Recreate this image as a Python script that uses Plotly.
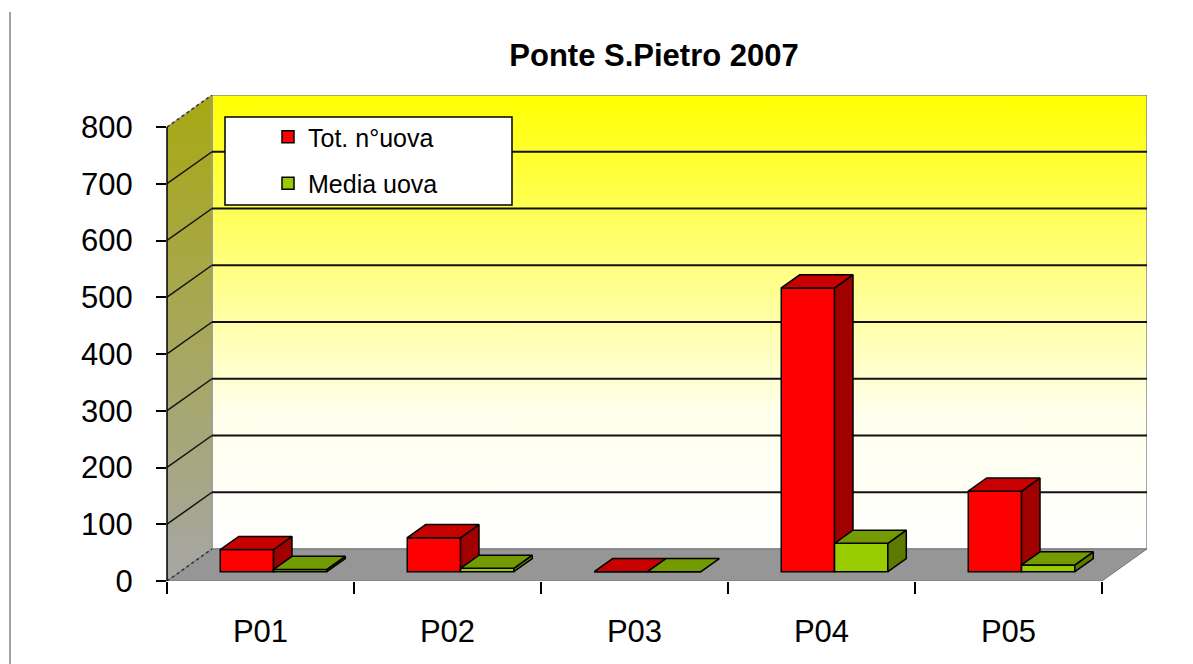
import plotly.graph_objects as go

# ---- data ----
categories = ["P01", "P02", "P03", "P04", "P05"]
tot_uova = [39, 60, 0, 500, 142]
media_uova = [4, 6, 0, 50, 12]
y_ticks = [0, 100, 200, 300, 400, 500, 600, 700, 800]
series_names = ["Tot. n°uova", "Media uova"]
title_text = "Ponte S.Pietro 2007"

# ---- 3D pseudo-projection constants ----
DX = 45 / 187.0      # x-shift (category units) for full depth
DY = 56.4            # y-shift (value units) for full depth
T0, T1 = 0.29, 0.70  # bar front/back depth fractions
BW = 0.285           # bar width (category units)
YMAX = y_ticks[-1]
XMIN, XMAX = -0.5, len(categories) - 0.5
FONT = "Liberation Sans, Arial, sans-serif"
OFF = 8  # page body margin offset


def P(x, v, t):
    return x + t * DX, v + t * DY


def poly(points):
    xs, ys = [], []
    for (x, v, t) in points:
        px, py = P(x, v, t)
        xs.append(px)
        ys.append(py)
    xs.append(xs[0])
    ys.append(ys[0])
    return xs, ys


def multi(polys):
    X, Y = [], []
    for xs, ys in polys:
        X += xs + [None]
        Y += ys + [None]
    return X, Y


fig = go.Figure()
xpos = list(range(len(categories)))

# ---- walls / floor (main subplot) ----
bx, by = poly([(XMIN, 0, 1), (XMAX, 0, 1), (XMAX, YMAX, 1), (XMIN, YMAX, 1)])
fig.add_trace(go.Scatter(x=bx, y=by, mode="lines", fill="toself",
                         fillgradient=dict(type="vertical",
                                           colorscale=[[0, "#FFFFFF"], [0.3, "#FFFFEC"], [1, "#FFFF00"]]),
                         line=dict(color="#8a8a8a", width=1.5),
                         hoverinfo="skip", showlegend=False, xaxis="x", yaxis="y"))
sx, sy = poly([(XMIN, 0, 0), (XMIN, 0, 1), (XMIN, YMAX, 1), (XMIN, YMAX, 0)])
fig.add_trace(go.Scatter(x=sx, y=sy, mode="lines", fill="toself",
                         fillgradient=dict(type="vertical",
                                           colorscale=[[0, "#A6A6A6"], [1, "#A8A812"]]),
                         line=dict(color="#9a9a9a", width=1),
                         hoverinfo="skip", showlegend=False, xaxis="x", yaxis="y"))
fx, fy = poly([(XMIN, 0, 0), (XMAX, 0, 0), (XMAX, 0, 1), (XMIN, 0, 1)])
fig.add_trace(go.Scatter(x=fx, y=fy, mode="lines", fill="toself", fillcolor="#969696",
                         line=dict(color="#7a7a7a", width=1),
                         hoverinfo="skip", showlegend=False, xaxis="x", yaxis="y"))

# gridlines on back wall
gl = []
for v in y_ticks[1:-1]:
    x0, y0 = P(XMIN, v, 1)
    x1, y1 = P(XMAX, v, 1)
    gl.append(([x0, x1], [y0, y1]))
gx, gy = multi(gl)
fig.add_trace(go.Scatter(x=gx, y=gy, mode="lines", line=dict(color="#111111", width=2),
                         hoverinfo="skip", showlegend=False, xaxis="x", yaxis="y"))
# diagonals on side wall
dl = []
for v in y_ticks[1:-1]:
    x0, y0 = P(XMIN, v, 0)
    x1, y1 = P(XMIN, v, 1)
    dl.append(([x0, x1], [y0, y1]))
dx_, dy_ = multi(dl)
fig.add_trace(go.Scatter(x=dx_, y=dy_, mode="lines", line=dict(color="#111111", width=1.5),
                         hoverinfo="skip", showlegend=False, xaxis="x", yaxis="y"))
el = []
for v in (y_ticks[0], y_ticks[-1]):
    x0, y0 = P(XMIN, v, 0)
    x1, y1 = P(XMIN, v, 1)
    el.append(([x0, x1], [y0, y1]))
ex, ey = multi(el)
fig.add_trace(go.Scatter(x=ex, y=ey, mode="lines", line=dict(color="#333333", width=1.5, dash="dot"),
                         hoverinfo="skip", showlegend=False, xaxis="x", yaxis="y"))


def add_series(values, name, c_front, c_top, c_side, left, xa, ya, group):
    # front faces as bars
    fig.add_trace(go.Bar(x=xpos, y=values, base=T0 * DY, width=BW,
                         offset=T0 * DX - (BW if left else 0),
                         marker=dict(color=c_front, line=dict(color="black", width=1.5)),
                         name=name, legendgroup=group, xaxis=xa, yaxis=ya))
    tops, sides = [], []
    for c, v in zip(xpos, values):
        xl = c - BW if left else c
        xr = xl + BW
        tops.append(poly([(xl, v, T0), (xr, v, T0), (xr, v, T1), (xl, v, T1)]))
        if v > 0:
            sides.append(poly([(xr, 0, T0), (xr, v, T0), (xr, v, T1), (xr, 0, T1)]))
    tx, ty = multi(sides)
    fig.add_trace(go.Scatter(x=tx, y=ty, mode="lines", fill="toself", fillcolor=c_side,
                             line=dict(color="black", width=1.5),
                             hoverinfo="skip", showlegend=False, xaxis=xa, yaxis=ya))
    tx, ty = multi(tops)
    fig.add_trace(go.Scatter(x=tx, y=ty, mode="lines", fill="toself", fillcolor=c_top,
                             line=dict(color="black", width=1.5),
                             hoverinfo="skip", showlegend=False, xaxis=xa, yaxis=ya))


add_series(tot_uova, series_names[0], "#FF0000", "#C80000", "#A00000", True, "x2", "y2", "g1")
add_series(media_uova, series_names[1], "#99CC00", "#739A00", "#5C7A00", False, "x3", "y3", "g2")

xr_ = [XMIN, XMAX + DX]
yr_ = [0, YMAX + DY]
hidden = dict(range=xr_, showgrid=False, zeroline=False, showticklabels=False, showline=False)

fig.update_layout(
    width=1193, height=664,
    margin=dict(l=167 - OFF, r=46 + OFF, t=95 - OFF, b=83 + OFF),
    paper_bgcolor="white", plot_bgcolor="rgba(0,0,0,0)",
    barmode="overlay",
    font=dict(family=FONT, color="black"),
    title=dict(text="<b>" + title_text + "</b>", x=(654 - OFF) / 1193, xanchor="center",
               y=1 - (55 - OFF) / 664, yanchor="middle", yref="container",
               font=dict(family=FONT, size=31, color="black")),
    xaxis=dict(range=xr_, tickmode="array", tickvals=xpos, ticktext=categories,
               ticks="", showgrid=False, zeroline=False, showline=False,
               tickfont=dict(size=31, family=FONT), ticklabelstandoff=29),
    yaxis=dict(range=yr_, tickmode="array", tickvals=y_ticks, ticks="outside",
               ticklen=10, tickwidth=1.5, tickcolor="black", showgrid=False,
               zeroline=False, showline=False, tickfont=dict(size=31, family=FONT),
               ticklabelstandoff=17),
    xaxis2=dict(overlaying="x", range=xr_, tickmode="array",
                tickvals=[i - 0.5 for i in range(len(categories) + 1)],
                ticks="outside", ticklen=12, tickwidth=1.5, tickcolor="black",
                showticklabels=False, showgrid=False, zeroline=False, showline=False),
    yaxis2=dict(overlaying="y", range=yr_, showgrid=False, zeroline=False,
                showticklabels=False, showline=False),
    xaxis3=dict(overlaying="x", **hidden),
    yaxis3=dict(overlaying="y", range=yr_, showgrid=False, zeroline=False,
                showticklabels=False, showline=False),
    legend=dict(x=(268 - 167) / 980, y=(581 - 114) / 486, xanchor="left", yanchor="top",
                bgcolor="rgba(0,0,0,0)", borderwidth=0, tracegroupgap=11,
                font=dict(size=25, family=FONT, color="black")),
    showlegend=True,
    shapes=[
        dict(type="rect", xref="paper", yref="paper",
             x0=(225 - 167) / 980, x1=(512 - 167) / 980,
             y0=(581 - 205) / 486, y1=(581 - 117) / 486,
             fillcolor="white", line=dict(color="black", width=1.5), layer="above"),
        dict(type="line", xref="paper", yref="y", x0=0, x1=0, y0=0, y1=YMAX,
             line=dict(color="black", width=1.5), layer="above"),
        dict(type="line", xref="paper", yref="paper", x0=(10 - 167) / 980, x1=(10 - 167) / 980,
             y0=(581 - 672) / 486, y1=(581 - 12) / 486,
             line=dict(color="#444444", width=1)),
    ],
)

fig.write_html("out.html")
